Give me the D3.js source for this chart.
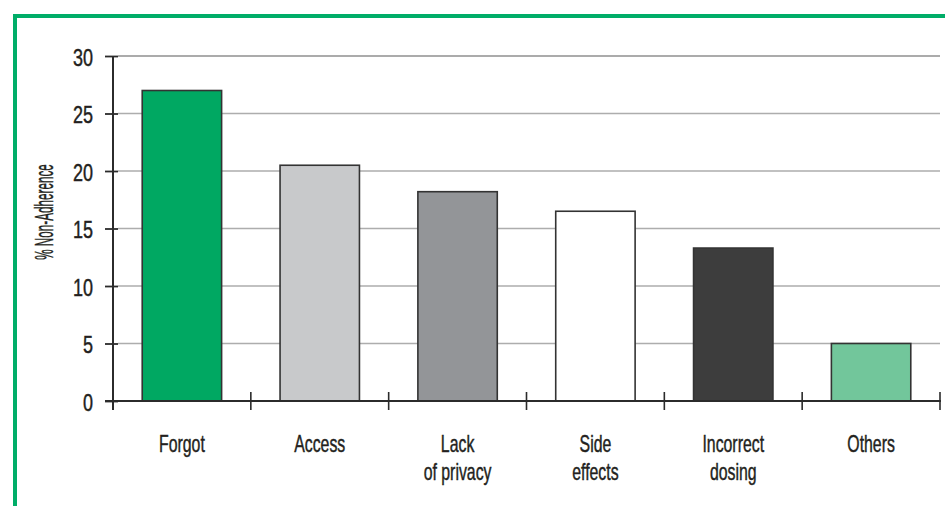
<!DOCTYPE html>
<html>
<head>
<meta charset="utf-8">
<script src="https://cdn.jsdelivr.net/npm/d3@7"></script>
<style>
  html, body { margin: 0; padding: 0; background: #fff; }
  svg { display: block; }
  text {
    font-family: "Liberation Sans", Arial, sans-serif;
    fill: #231f20;
    stroke: #231f20;
    stroke-width: 0.45px;
  }
</style>
</head>
<body>
<svg id="chart" width="945" height="506"></svg>
<script>
// Reasons for non-adherence and the share of respondents giving each
const categories = [
  ["Forgot"],
  ["Access"],
  ["Lack", "of privacy"],
  ["Side", "effects"],
  ["Incorrect", "dosing"],
  ["Others"]
];
const values = [27, 20.5, 18.2, 16.5, 13.3, 5];
const yTicks = [0, 5, 10, 15, 20, 25, 30];
const yLabel = "% Non-Adherence";

const barColors = ["#00a862", "#c8c9cb", "#939598", "#ffffff", "#3d3d3d", "#72c69b"];

const svg = d3.select("#chart");
const W = 945, H = 506;
const x0 = 113, x1 = 940, yBottom = 401, yTop = 56;
const axisColor = "#2b2b2b";

// green frame running off the right and bottom edges
svg.append("rect")
  .attr("x", 15).attr("y", 16)
  .attr("width", W + 40).attr("height", H + 40)
  .attr("fill", "none")
  .attr("stroke", "#00ad68")
  .attr("stroke-width", 4);

const keys = categories.map((c, i) => i);
const x = d3.scaleBand().domain(keys).range([x0, x1]).padding(0);
const y = d3.scaleLinear().domain([0, 30]).range([yBottom, yTop]);
const barWidth = x.bandwidth() * 0.576;

// horizontal gridlines
svg.append("g")
  .selectAll("line")
  .data(yTicks.filter(t => t > 0))
  .join("line")
  .attr("x1", x0 + 5).attr("x2", x1)
  .attr("y1", d => y(d)).attr("y2", d => y(d))
  .attr("stroke", d => d === 30 ? "#8f8f8f" : "#adadad")
  .attr("stroke-width", 1.5);

// bars
svg.append("g")
  .selectAll("rect")
  .data(values)
  .join("rect")
  .attr("x", (d, i) => x(i) + (x.bandwidth() - barWidth) / 2)
  .attr("y", d => y(d))
  .attr("width", barWidth)
  .attr("height", d => y(0) - y(d))
  .attr("fill", (d, i) => barColors[i])
  .attr("stroke", "#333")
  .attr("stroke-width", 1.6);

// y axis
const yAxis = svg.append("g")
  .attr("transform", `translate(${x0},0)`)
  .call(d3.axisLeft(y).tickValues(yTicks).tickSize(8).tickSizeOuter(0).tickPadding(0));
yAxis.select(".domain").remove();
yAxis.selectAll(".tick line")
  .attr("x1", 5).attr("x2", -8)
  .attr("stroke", axisColor).attr("stroke-width", 1.8);
yAxis.selectAll(".tick text")
  .attr("x", null).attr("dy", null)
  .attr("dominant-baseline", "central")
  .attr("text-anchor", "end")
  .attr("transform", "translate(-20,1) scale(0.75,1)")
  .style("font-size", "24px");
svg.append("line")
  .attr("x1", x0).attr("x2", x0)
  .attr("y1", yTop).attr("y2", yBottom + 9)
  .attr("stroke", axisColor).attr("stroke-width", 2);

// x axis with category labels under each band
const xAxis = svg.append("g")
  .attr("transform", `translate(0,${yBottom})`)
  .call(d3.axisBottom(x).tickSize(0).tickPadding(0).tickFormat(() => ""));
xAxis.select(".domain").remove();
svg.append("line")
  .attr("x1", x0 - 8).attr("x2", x1 + 1)
  .attr("y1", yBottom).attr("y2", yBottom)
  .attr("stroke", axisColor).attr("stroke-width", 2);

// boundary ticks between categories
const bounds = keys.map(k => x(k)).concat([x1]);
svg.append("g")
  .selectAll("line")
  .data(bounds.slice(1))
  .join("line")
  .attr("x1", d => d).attr("x2", d => d)
  .attr("y1", yBottom - 9).attr("y2", yBottom + 9)
  .attr("stroke", axisColor).attr("stroke-width", 1.6);

xAxis.selectAll(".tick text").each(function(k) {
  const t = d3.select(this)
    .attr("y", null).attr("dy", null)
    .attr("text-anchor", "middle")
    .attr("transform", "translate(0,51) scale(0.66,1)")
    .style("font-size", "24px");
  t.selectAll("tspan")
    .data(categories[k])
    .join("tspan")
    .attr("x", 0)
    .attr("y", (d, i) => i * 28)
    .text(d => d);
});

// y axis title
svg.append("text")
  .attr("transform", `translate(53,212) rotate(-90) scale(0.45,1)`)
  .attr("text-anchor", "middle")
  .style("font-size", "26px")
  .text(yLabel);
</script>
</body>
</html>
